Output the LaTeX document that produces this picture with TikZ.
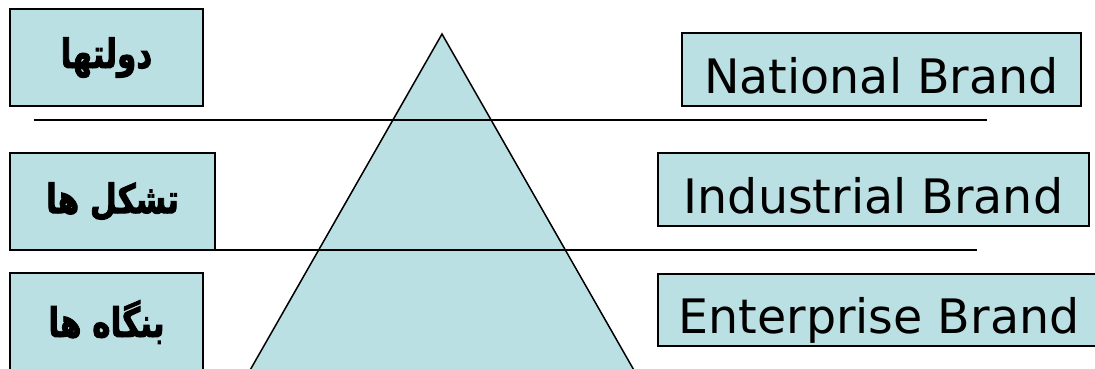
\documentclass[tikz,border=0pt]{standalone}
\usepackage{graphicx}
\usepackage{fontspec}
\setmainfont{DejaVu Sans}
\newfontfamily\arabicfont[Script=Arabic, BoldFeatures={FakeBold=2.5}]{DejaVu Sans}
\TeXXeTstate=1
\definecolor{paleblue}{HTML}{BBE0E3}
% tall, heavy right-to-left label
\newcommand{\rtllabel}[1]{\scalebox{1}[1.3]{\beginR #1\endR}}
\begin{document}
\begin{tikzpicture}[x=1pt,y=-1pt,
  tier/.style={draw=black, line width=1.5pt, fill=paleblue, inner sep=0pt, outer sep=0pt},
  fa/.style={font={\arabicfont\bfseries\fontsize{31}{37}\selectfont}},
  en/.style={font={\fontsize{47.5}{57}\selectfont}, text height=47pt, text depth=0pt},
  rule/.style={line width=1.5pt}]
\useasboundingbox (0,0) rectangle (1095,369);
\clip (0,0) rectangle (1095,369);
% pyramid
\coordinate (apex) at (442,34);
\coordinate (baseL) at (233,400);
\coordinate (baseR) at (651,400);
\draw[fill=paleblue, line width=1.5pt] (apex) -- (baseR) -- (baseL) -- cycle;
% level separators
\coordinate (r1a) at (34,120);
\coordinate (r1b) at (987,120);
\coordinate (r2a) at (10,250);
\coordinate (r2b) at (977,250);
\draw[rule] (r1a) -- (r1b);
\draw[rule] (r2a) -- (r2b);
% Persian level names
\node[tier, fa, minimum width=193pt, minimum height=97pt] (gov) at (106.5,57.5) {\rtllabel{دولتها}};
\node[tier, fa, minimum width=205pt, minimum height=97pt] (assoc) at (112.5,201.5) {\rtllabel{تشکل ها}};
\node[tier, fa, minimum width=193pt, minimum height=98pt] (firm) at (106.5,322) {\rtllabel{بنگاه ها}};
% brand levels
\node[tier, en, minimum width=399pt, minimum height=73pt] (national) at (881.5,69.5) {National Brand};
\node[tier, en, minimum width=431pt, minimum height=73pt] (industrial) at (873.5,189.5) {Industrial Brand};
\node[tier, en, minimum width=442pt, minimum height=72pt] (enterprise) at (879,310) {Enterprise Brand};
\end{tikzpicture}
\end{document}
